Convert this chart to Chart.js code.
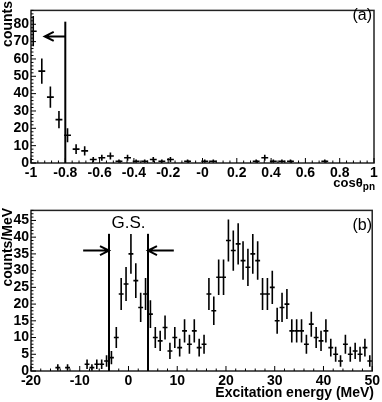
<!DOCTYPE html>
<html><head><meta charset="utf-8">
<script src="https://cdn.jsdelivr.net/npm/chart.js@4"></script>
<style>
html,body{margin:0;padding:0;background:#fff;width:382px;height:402px;overflow:hidden}
canvas{position:absolute;left:0}
#ca{top:0}
#cb{top:200px}
</style></head><body>
<canvas id="ca" width="382" height="200"></canvas>
<canvas id="cb" width="382" height="202"></canvas>
<script>
// ---------- Panel (a) data ----------
const cosCenters = [-0.987,-0.937,-0.887,-0.837,-0.787,-0.737,-0.687,-0.637,-0.587,-0.537,-0.487,-0.437,-0.387,-0.337,-0.287,-0.237,-0.187,-0.087,0.013,0.063,0.313,0.363,0.413,0.463,0.513,0.713];
const countsA    = [76,53,38,25,16,8,7,2,3,4,1,3,1,1,2,1,2,1,1,1,1,3,1,1,1,1];
const xTickLabelsA = ['-1','-0.8','-0.6','-0.4','-0.2','-0','0.2','0.4','0.6','0.8','1'];
const cutA = -0.8, cutTopA = 81.5, arrowYA = 73, arrowTipA = -0.92;

// ---------- Panel (b) data ----------
const energyCenters = [-14.5,-12.5,-8.5,-7.5,-6.5,-5.5,-4.5,-3.5,-2.5,-1.5,-0.5,0.5,1.5,2.5,3.5,4.5,5.5,6.5,7.5,8.5,9.5,10.5,11.5,12.5,13.5,14.5,15.5,16.5,17.5,18.5,19.5,20.5,21.5,22.5,23.5,24.5,25.5,26.5,27.5,28.5,29.5,30.5,31.5,32.5,33.5,34.5,35.5,36.5,37.5,38.5,39.5,40.5,41.5,42.5,43.5,44.5,45.5,46.5,47.5,48.5,49.5];
const countsB       = [1,1,2,1,2,2,3,4,10,23,26,35,27,19,23,17,10,9,13,6,10,7,12,8,12,7,8,23,18,28,28,39,36,38,33,31,35,33,23,23,25,15,19,20,12,12,12,8,14,10,9,12,7,5,3,8,5,6,5,7,3];
const gsLines = [-4, 4], gsTop = 41, gsArrowY = 36, gsArrowTails = [-9.3, 9.3], gsLabelY = 42.6;

const FONT = "'Liberation Sans', Arial, Helvetica, sans-serif";

function errPlugin(hw, extra) {
  return {
    id: 'rootStyle',
    afterDraw(chart) {
      const ctx = chart.ctx, xs = chart.scales.x, ys = chart.scales.y, ca = chart.chartArea;
      ctx.save();
      // error bars
      ctx.strokeStyle = '#000'; ctx.lineWidth = 1.6;
      chart.data.datasets[0].data.forEach(p => {
        const e = Math.sqrt(p.y);
        const px = xs.getPixelForValue(p.x), py = ys.getPixelForValue(p.y);
        const y1 = Math.min(ca.bottom, ys.getPixelForValue(p.y - e)), y2 = ys.getPixelForValue(p.y + e);
        ctx.beginPath();
        ctx.moveTo(px, y1); ctx.lineTo(px, y2);
        ctx.moveTo(Math.max(ca.left, xs.getPixelForValue(p.x - hw)), py);
        ctx.lineTo(xs.getPixelForValue(p.x + hw), py);
        ctx.stroke();
      });
      // frame
      ctx.lineWidth = 1.5; ctx.strokeStyle = '#222';
      ctx.strokeRect(ca.left, ca.top, ca.right - ca.left, ca.bottom - ca.top);
      // inward ticks
      ctx.lineWidth = 1; ctx.strokeStyle = '#000';
      ctx.beginPath();
      const xt = xs.ticks.map(t => t.value);
      for (let i = 0; i < xt.length; i++) {
        const X = xs.getPixelForValue(xt[i]);
        ctx.moveTo(X, ca.bottom); ctx.lineTo(X, ca.bottom - 5);
        if (i < xt.length - 1) {
          const st = (xt[i+1] - xt[i]) / extra.xMinor;
          for (let k = 1; k < extra.xMinor; k++) {
            const Xm = xs.getPixelForValue(xt[i] + st * k);
            ctx.moveTo(Xm, ca.bottom); ctx.lineTo(Xm, ca.bottom - 2.5);
          }
        }
      }
      const yt = ys.ticks.map(t => t.value);
      const ystep = yt[1] - yt[0];
      for (let v = 0; v <= ys.max + 1e-9; v += ystep / extra.yMinor) {
        const Y = ys.getPixelForValue(v);
        const major = Math.abs(v / ystep - Math.round(v / ystep)) < 1e-6;
        ctx.moveTo(ca.left, Y); ctx.lineTo(ca.left + (major ? 5 : 2.5), Y);
      }
      ctx.stroke();
      extra.draw(ctx, xs, ys, ca);
      ctx.restore();
    }
  };
}

function arrow(ctx, x1, y, x2) { // tail x1 -> tip x2
  const d = Math.sign(x2 - x1);
  ctx.beginPath();
  ctx.moveTo(x1, y); ctx.lineTo(x2, y);
  ctx.moveTo(x2 - d * 9, y - 4.5); ctx.lineTo(x2, y); ctx.lineTo(x2 - d * 9, y + 4.5);
  ctx.stroke();
}

function baseOptions(xmin, xmax, xstep, ymin, ymax, ystep, xCb, xH, padTop) {
  const tickFont = { family: FONT, size: 14, weight: 'bold' };
  return {
    responsive: false, animation: false,
    layout: { padding: { top: padTop, right: 8, left: 0, bottom: 0 } },
    plugins: { legend: { display: false }, tooltip: { enabled: false } },
    scales: {
      x: { type: 'linear', min: xmin, max: xmax,
        ticks: { stepSize: xstep, autoSkip: false, includeBounds: false, maxRotation: 0, padding: 2, color: '#000', font: tickFont, callback: xCb },
        grid: { display: false, drawTicks: false }, border: { display: false },
        afterFit: s => { s.height = xH; } },
      y: { type: 'linear', min: ymin, max: ymax,
        ticks: { stepSize: ystep, autoSkip: false, includeBounds: false, padding: 2, color: '#000', font: tickFont },
        grid: { display: false, drawTicks: false }, border: { display: false },
        afterFit: s => { s.width = 31; } }
    }
  };
}

// ---------- Chart (a) ----------
new Chart(document.getElementById('ca'), {
  type: 'scatter',
  data: { datasets: [{ data: cosCenters.map((x, i) => ({ x, y: countsA[i] })), pointRadius: 0, showLine: false }] },
  options: baseOptions(-1, 1, 0.2, 0, 88, 10, (v, i) => xTickLabelsA[i], 37, 1),
  plugins: [errPlugin(0.02, { xMinor: 5, yMinor: 5, draw(ctx, xs, ys, ca) {
    ctx.strokeStyle = '#000'; ctx.lineWidth = 2;
    const X = xs.getPixelForValue(cutA);
    ctx.beginPath(); ctx.moveTo(X, ys.getPixelForValue(0)); ctx.lineTo(X, ys.getPixelForValue(cutTopA)); ctx.stroke();
    arrow(ctx, X, ys.getPixelForValue(arrowYA), xs.getPixelForValue(arrowTipA));
    ctx.fillStyle = '#000';
    ctx.font = '16px ' + FONT; ctx.textAlign = 'right'; ctx.textBaseline = 'alphabetic';
    ctx.fillText('(a)', 372, 20);
    // y title
    ctx.save(); ctx.translate(12, 1); ctx.rotate(-Math.PI / 2);
    ctx.font = 'bold 14px ' + FONT; ctx.textAlign = 'right'; ctx.fillText('counts', 0, 0); ctx.restore();
    // x title
    ctx.font = 'bold 10px ' + FONT; ctx.textAlign = 'right';
    const wpn = ctx.measureText('pn').width;
    ctx.fillText('pn', 375, 190);
    ctx.font = 'bold 13px ' + FONT;
    ctx.fillText('cosθ', 375 - wpn, 187);
  } })]
});

// ---------- Chart (b) ----------
new Chart(document.getElementById('cb'), {
  type: 'scatter',
  data: { datasets: [{ data: energyCenters.map((x, i) => ({ x, y: countsB[i] })), pointRadius: 0, showLine: false }] },
  options: baseOptions(-20, 50, 10, 0, 48, 5, v => String(v), 31, 8),
  plugins: [errPlugin(0.5, { xMinor: 5, yMinor: 5, draw(ctx, xs, ys, ca) {
    ctx.strokeStyle = '#000'; ctx.lineWidth = 2;
    gsLines.forEach((g, i) => {
      const X = xs.getPixelForValue(g);
      ctx.beginPath(); ctx.moveTo(X, ys.getPixelForValue(0)); ctx.lineTo(X, ys.getPixelForValue(gsTop)); ctx.stroke();
      arrow(ctx, xs.getPixelForValue(gsArrowTails[i]), ys.getPixelForValue(gsArrowY), X);
    });
    ctx.fillStyle = '#000';
    ctx.font = '17px ' + FONT; ctx.textAlign = 'center'; ctx.textBaseline = 'alphabetic';
    ctx.fillText('G.S.', xs.getPixelForValue(0), ys.getPixelForValue(gsLabelY));
    ctx.font = '16px ' + FONT; ctx.textAlign = 'right';
    ctx.fillText('(b)', 372, 29.5);
    ctx.save(); ctx.translate(12, 8); ctx.rotate(-Math.PI / 2);
    ctx.font = 'bold 14px ' + FONT; ctx.textAlign = 'right'; ctx.fillText('counts/MeV', 0, 0); ctx.restore();
    ctx.font = 'bold 14px ' + FONT; ctx.textAlign = 'right';
    ctx.fillText('Excitation energy (MeV)', 374, 197);
  } })]
});
</script>
</body></html>
